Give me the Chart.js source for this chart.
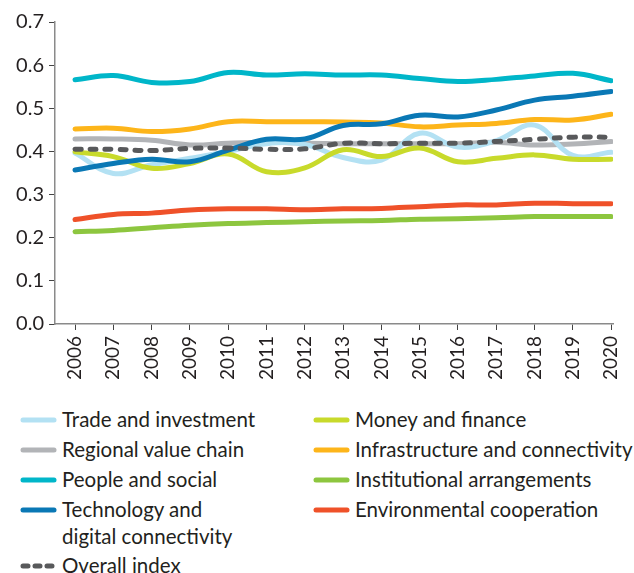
<!DOCTYPE html>
<html>
<head>
<meta charset="utf-8">
<script src="https://cdn.jsdelivr.net/npm/chart.js@4"></script>
<style>
  html, body { margin: 0; padding: 0; background: #fff; }
  body { width: 634px; height: 573px; position: relative; overflow: hidden; font-family: Lato, "Open Sans", sans-serif; color: #231f20; }
  #wrap { position: absolute; left: 0; top: 0; width: 640px; height: 395px; }
  #legend { position: absolute; left: 0; top: 406px; width: 634px; }
  .item { position: absolute; font-size: 20.5px; line-height: 27px; white-space: nowrap; }
  .item svg { position: absolute; left: 0; top: 9px; }
  .item span { position: absolute; left: 42px; top: 0; }
</style>
</head>
<body>
<div id="wrap"><canvas id="c"></canvas></div>
<div id="legend"></div>
<script>
const years = [2006,2007,2008,2009,2010,2011,2012,2013,2014,2015,2016,2017,2018,2019,2020];
const yTicks = [0, 0.1, 0.2, 0.3, 0.4, 0.5, 0.6, 0.7];

const tradeInvestment      = [0.396,0.349,0.369,0.384,0.400,0.418,0.416,0.386,0.380,0.442,0.410,0.425,0.461,0.391,0.398];
const moneyFinance         = [0.399,0.388,0.361,0.372,0.394,0.353,0.362,0.404,0.388,0.408,0.376,0.384,0.392,0.382,0.382];
const regionalValueChain   = [0.429,0.429,0.426,0.415,0.419,0.421,0.419,0.418,0.418,0.418,0.418,0.421,0.415,0.417,0.423];
const infrastructure       = [0.452,0.454,0.446,0.452,0.469,0.469,0.469,0.468,0.466,0.457,0.461,0.465,0.474,0.473,0.486];
const peopleSocial         = [0.566,0.576,0.560,0.562,0.583,0.577,0.580,0.577,0.577,0.569,0.562,0.567,0.575,0.581,0.564];
const institutional        = [0.214,0.217,0.223,0.229,0.233,0.235,0.237,0.239,0.240,0.243,0.244,0.246,0.249,0.249,0.249];
const technologyDigital    = [0.357,0.372,0.382,0.376,0.403,0.428,0.429,0.460,0.464,0.484,0.480,0.496,0.519,0.528,0.539];
const environmental        = [0.242,0.254,0.257,0.264,0.267,0.267,0.265,0.267,0.268,0.272,0.276,0.276,0.280,0.279,0.279];
const overallIndex         = [0.405,0.405,0.402,0.407,0.408,0.405,0.406,0.419,0.418,0.419,0.419,0.423,0.428,0.433,0.433];

const seriesNames = [
  "Trade and investment", "Money and finance",
  "Regional value chain", "Infrastructure and connectivity",
  "People and social", "Institutional arrangements",
  "Technology and\ndigital connectivity", "Environmental cooperation",
  "Overall index"
];
const seriesValues = [tradeInvestment, moneyFinance, regionalValueChain, infrastructure,
  peopleSocial, institutional, technologyDigital, environmental, overallIndex];
const seriesColors = ["#b3e1f3","#c8da2b","#b2b4b7","#fdb51a","#00b6c9","#8dc63f","#0a78b5","#ef5129","#58595b"];
const drawOrder = [4, 3, 6, 7, 7, 7, 2, 7, 0];

const datasets = seriesValues.map((vals, i) => ({
  label: seriesNames[i].replace("\n", " "),
  data: vals.map((v, j) => ({ x: years[j], y: v })),
  borderColor: seriesColors[i],
  backgroundColor: seriesColors[i],
  borderWidth: 5,
  borderDash: i === 8 ? [6, 9] : [],
  borderCapStyle: 'round',
  borderJoinStyle: 'round',
  pointRadius: 0,
  tension: 0.4,
  fill: false,
  order: drawOrder[i]
}));

const axisColor = "#8a8a8a";
new Chart(document.getElementById('c'), {
  type: 'line',
  data: { datasets },
  options: {
    responsive: true,
    maintainAspectRatio: false,
    animation: false,
    events: [],
    layout: { padding: { top: 22, right: 12, left: 0, bottom: 0 } },
    plugins: { legend: { display: false }, tooltip: { enabled: false } },
    scales: {
      x: {
        type: 'linear',
        min: 2005.477,
        max: 2020.05,
        afterBuildTicks: (s) => { s.ticks = years.map(v => ({ value: v })); },
        afterFit: (s) => { s.height = 71; },
        ticks: {
          autoSkip: false, includeBounds: false, minRotation: 90, maxRotation: 90,
          color: "#231f20", padding: 6,
          font: { family: "Lato", size: 19 },
          callback: (v) => String(v)
        },
        grid: { drawOnChartArea: false, drawTicks: true, tickLength: 6, color: "#444", lineWidth: 1 },
        border: { display: true, color: axisColor, width: 1.5 }
      },
      y: {
        min: 0, max: 0.7,
        afterBuildTicks: (s) => { s.ticks = yTicks.map(v => ({ value: v })); },
        afterFit: (s) => { s.width = 55; },
        ticks: {
          color: "#231f20", padding: 5,
          font: { family: "Lato", size: 20 },
          callback: (v) => Number(v).toFixed(1)
        },
        grid: { drawOnChartArea: false, drawTicks: true, tickLength: 6, color: "#444", lineWidth: 1 },
        border: { display: true, color: axisColor, width: 1.5 }
      }
    }
  }
});

// HTML legend
const legendPos = [
  [20, 0], [313, 0],
  [20, 30], [313, 30],
  [20, 60], [313, 60],
  [20, 90], [313, 90],
  [20, 146]
];
const leg = document.getElementById('legend');
seriesNames.forEach((name, i) => {
  const d = document.createElement('div');
  d.className = 'item';
  d.style.left = legendPos[i][0] + 'px';
  d.style.top = legendPos[i][1] + 'px';
  const dash = i === 8 ? 'stroke-dasharray="5 7"' : '';
  d.innerHTML = '<svg width="40" height="10"><line x1="3" y1="5" x2="34" y2="5" stroke="' + seriesColors[i] +
    '" stroke-width="5" stroke-linecap="round" ' + dash + '/></svg>';
  const s = document.createElement('span');
  s.style.whiteSpace = 'pre';
  s.textContent = name;
  d.appendChild(s);
  leg.appendChild(d);
});
</script>
</body>
</html>
